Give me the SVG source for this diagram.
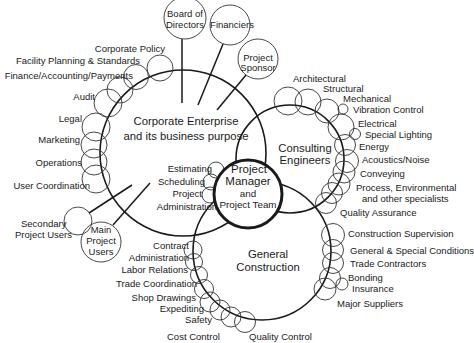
<svg xmlns="http://www.w3.org/2000/svg" width="474" height="343" viewBox="0 0 474 343">
<style>
text{font-family:"Liberation Sans",Arial,sans-serif;font-size:9.5px;fill:#1a1a1a}
.e{text-anchor:end}.m{text-anchor:middle}
.big{fill:none;stroke:#1a1a1a;stroke-width:1.6}
.sm{fill:none;stroke:#333;stroke-width:0.9}
.ln{stroke:#1a1a1a;stroke-width:1.5;fill:none}
.t11{font-size:11.3px}
</style>
<rect width="474" height="343" fill="#fff"/>
<g id="main-circles">
<circle id="corporate" class="big" cx="183" cy="153" r="83"/>
<circle id="consulting" class="big" cx="290" cy="159" r="54"/>
<circle id="general" class="big" cx="262" cy="251" r="69"/>
</g>
<g id="connectors">
<line class="ln" x1="182" y1="39" x2="182" y2="103"/>
<line class="ln" x1="223" y1="44" x2="198" y2="105"/>
<line class="ln" x1="246" y1="75" x2="217" y2="110"/>
<line class="ln" x1="132" y1="185" x2="89" y2="213"/>
<line class="ln" x1="150" y1="183" x2="113" y2="225"/>
</g>
<g id="corporate-label">
<text class="m t11" x="186" y="125">Corporate Enterprise</text>
<text class="m t11" x="186" y="140">and its business purpose</text>
</g>
<g id="consulting-label">
<text class="m t11" x="305" y="152">Consulting</text>
<text class="m t11" x="305" y="164">Engineers</text>
</g>
<g id="general-label">
<text class="m t11" x="268" y="258">General</text>
<text class="m t11" x="268" y="271">Construction</text>
</g>
<g id="board"><circle class="sm" cx="185" cy="18" r="21"/><text class="m" x="185" y="17">Board of</text><text class="m" x="185" y="28">Directors</text></g>
<g id="financiers"><circle class="sm" cx="230" cy="25" r="20"/><text class="m" x="232" y="28">Financiers</text></g>
<g id="sponsor"><circle class="sm" cx="258" cy="59" r="20"/><text class="m" x="258" y="61">Project</text><text class="m" x="258" y="71">Sponsor</text></g>
<g id="corp-policy"><circle class="sm" cx="160" cy="68" r="13"/><text class="e" x="165" y="52">Corporate Policy</text></g>
<g id="facility"><circle class="sm" cx="136" cy="77" r="12.5"/><text class="e" x="140" y="64">Facility Planning &amp; Standards</text></g>
<g id="finance"><circle class="sm" cx="120" cy="90" r="13"/><text class="e" x="133" y="79">Finance/Accounting/Payments</text></g>
<g id="audit"><circle class="sm" cx="108" cy="103" r="14"/><text class="e" x="95" y="100">Audit</text></g>
<g id="legal"><circle class="sm" cx="96" cy="127" r="14"/><text class="e" x="82" y="122">Legal</text></g>
<g id="marketing"><circle class="sm" cx="94" cy="145" r="13"/><text class="e" x="80" y="143">Marketing</text></g>
<g id="operations"><circle class="sm" cx="94" cy="162" r="13"/><text class="e" x="82" y="166">Operations</text></g>
<g id="user-coord"><circle class="sm" cx="96" cy="179" r="14"/><text class="e" x="90" y="189">User Coordination</text></g>
<g id="secondary"><circle class="sm" cx="78" cy="221" r="14"/><text x="21" y="227">Secondary</text><text x="15" y="238">Project Users</text></g>
<g id="main-users"><circle class="sm" cx="101" cy="242" r="20"/><text class="m" x="101" y="233">Main</text><text class="m" x="101" y="244">Project</text><text class="m" x="101" y="255">Users</text></g>
<g id="estimating"><circle class="sm" cx="216" cy="170" r="8"/><text class="e" x="212" y="172">Estimating</text></g>
<g id="scheduling"><circle class="sm" cx="211" cy="182" r="8"/><text class="e" x="205" y="185">Scheduling</text></g>
<g id="proj-admin"><circle class="sm" cx="210" cy="195" r="8"/><text class="e" x="202" y="197">Project</text><text class="e" x="217" y="210">Administration</text></g>
<g id="architectural"><circle class="sm" cx="288" cy="101" r="14"/><text x="293" y="82">Architectural</text></g>
<g id="structural"><circle class="sm" cx="308" cy="102" r="13"/><text x="323" y="92">Structural</text></g>
<g id="mechanical"><circle class="sm" cx="327" cy="111" r="12"/><text x="343" y="102">Mechanical</text></g>
<g id="vibration"><circle class="sm" cx="343" cy="109" r="5"/><text x="353" y="113">Vibration Control</text></g>
<g id="electrical"><circle class="sm" cx="341" cy="127" r="13"/><text x="358" y="127">Electrical</text></g>
<g id="lighting"><circle class="sm" cx="355" cy="134" r="5.5"/><text x="365" y="138">Special Lighting</text></g>
<g id="energy"><circle class="sm" cx="345" cy="145" r="10.5"/><text x="359" y="150">Energy</text></g>
<g id="acoustics"><circle class="sm" cx="347" cy="161" r="11.5"/><text x="362" y="163">Acoustics/Noise</text></g>
<g id="conveying"><circle class="sm" cx="344" cy="172" r="11"/><text x="360" y="177">Conveying</text></g>
<g id="process"><circle class="sm" cx="339" cy="184" r="11"/><circle class="sm" cx="332" cy="193" r="10.5"/><text x="356" y="191">Process, Environmental</text><text x="362" y="202">and other specialists</text></g>
<g id="qa"><circle class="sm" cx="326" cy="203" r="10.5"/><text x="340" y="216">Quality Assurance</text></g>
<g id="supervision"><circle class="sm" cx="333" cy="235" r="11.5"/><text x="348" y="237">Construction Supervision</text></g>
<g id="conditions"><circle class="sm" cx="333" cy="250" r="10.5"/><text x="350" y="254">General &amp; Special Conditions</text></g>
<g id="trade-contractors"><circle class="sm" cx="333" cy="263" r="10.5"/><text x="350" y="267">Trade Contractors</text></g>
<g id="bonding"><circle class="sm" cx="330" cy="278" r="10.5"/><text x="348" y="281">Bonding</text></g>
<g id="insurance"><circle class="sm" cx="342" cy="284" r="6"/><text x="352" y="292">Insurance</text></g>
<g id="suppliers"><circle class="sm" cx="325" cy="289" r="11"/><text x="337" y="307">Major Suppliers</text></g>
<g id="contract-admin"><circle class="sm" cx="193" cy="250" r="9"/><text class="e" x="189" y="249">Contract</text><text class="e" x="189" y="261">Administration</text></g>
<g id="labor"><circle class="sm" cx="194" cy="262" r="8.5"/><text class="e" x="188" y="273">Labor Relations</text></g>
<g id="trade-coord"><circle class="sm" cx="199" cy="275" r="8.5"/><text class="e" x="197" y="287">Trade Coordination</text></g>
<g id="shop"><circle class="sm" cx="204" cy="289" r="9.5"/><text class="e" x="196" y="301">Shop Drawings</text></g>
<g id="expediting"><circle class="sm" cx="210" cy="302" r="10"/><text class="e" x="204" y="312">Expediting</text></g>
<g id="safety"><circle class="sm" cx="220" cy="310" r="10"/><text class="e" x="212" y="323">Safety</text></g>
<g id="cost"><circle class="sm" cx="231" cy="317" r="10"/><text x="167" y="340">Cost Control</text></g>
<g id="qc"><circle class="sm" cx="245" cy="322" r="10.5"/><text x="249" y="340">Quality Control</text></g>
<g id="pm">
<circle cx="248" cy="194" r="34" fill="#fff" stroke="#1a1a1a" stroke-width="3"/>
<text class="m" x="249" y="173" style="font-size:11.5px">Project</text>
<text class="m" x="248" y="185" style="font-size:11.5px">Manager</text>
<text class="m" x="248" y="197" style="font-size:9.8px">and</text>
<text class="m" x="248" y="208" style="font-size:9.8px">Project Team</text>
</g>
</svg>
